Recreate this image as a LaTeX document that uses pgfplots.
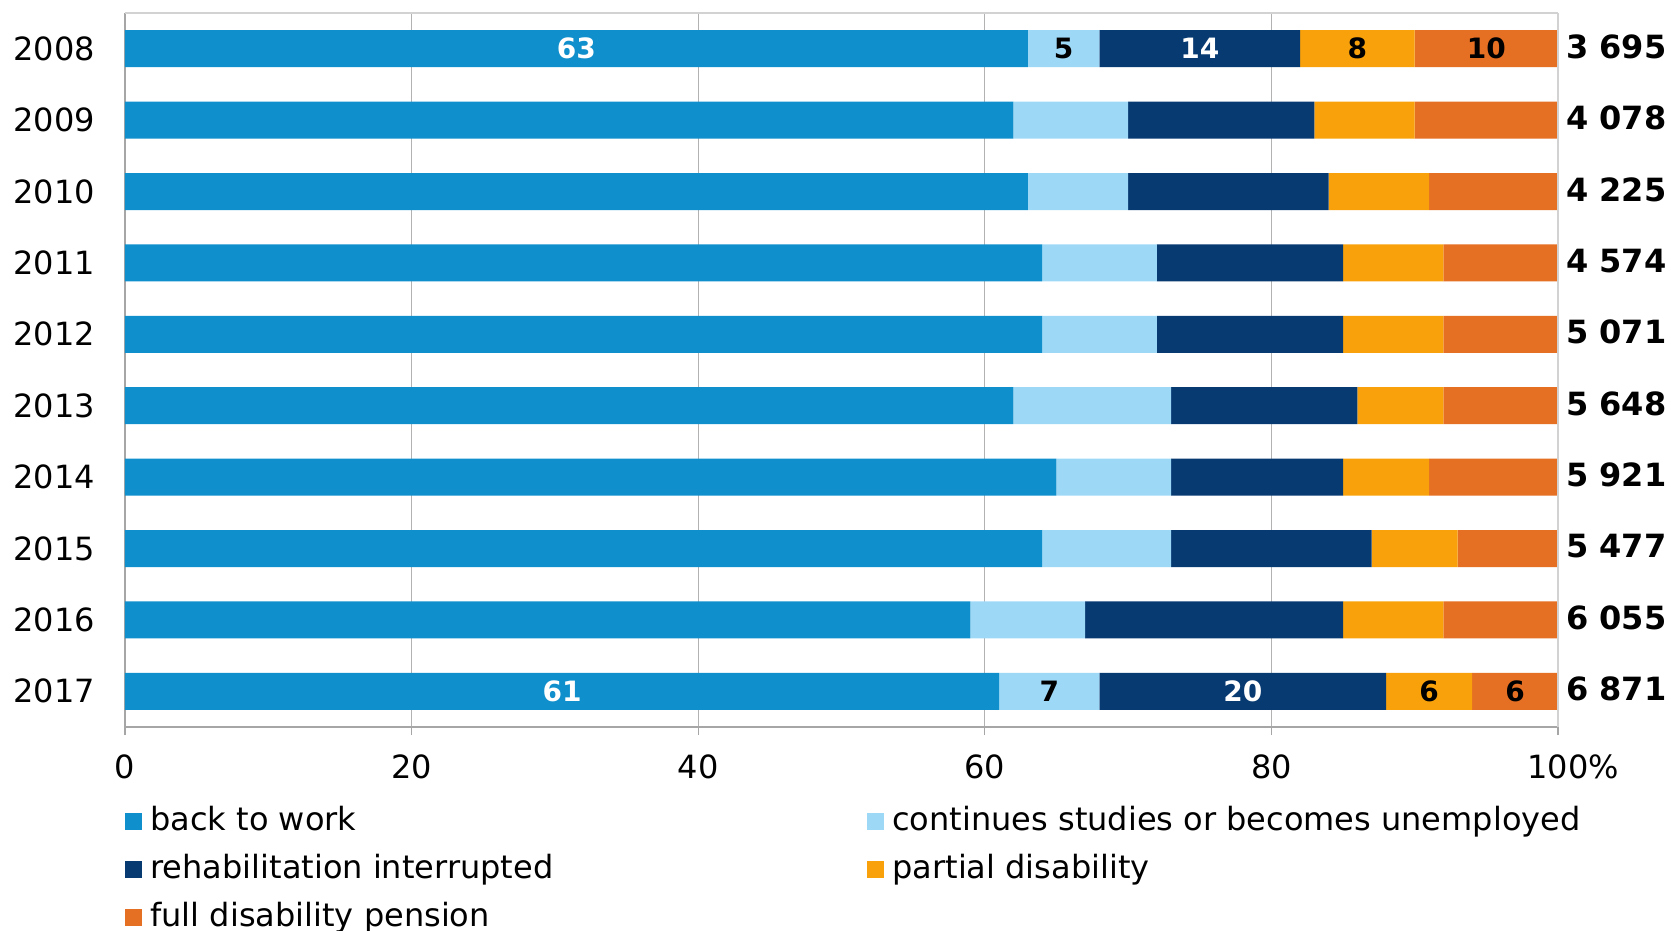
\documentclass[border=0pt]{standalone}
\usepackage{pgfplots}
\pgfplotsset{compat=1.18}
\usepackage{pgfplotstable}
\usepackage{fontspec}
\setmainfont{DejaVu Sans}

\definecolor{cwork}{HTML}{0F8FCC}
\definecolor{cstud}{HTML}{9DD9F7}
\definecolor{crehab}{HTML}{083A72}
\definecolor{cpart}{HTML}{F9A10B}
\definecolor{cfull}{HTML}{E56F22}

% shares in %, rows 0 = 2008 ... 9 = 2017; l* = printed labels
\pgfplotstableread{
y w s r p f lw ls lr lp lf
0 63 5 14 8 10 63 5 14 8 10
1 62 8 13 7 10 {} {} {} {} {}
2 63 7 14 7 9 {} {} {} {} {}
3 64 8 13 7 8 {} {} {} {} {}
4 64 8 13 7 8 {} {} {} {} {}
5 62 11 13 6 8 {} {} {} {} {}
6 65 8 12 6 9 {} {} {} {} {}
7 64 9 14 6 7 {} {} {} {} {}
8 59 8 18 7 8 {} {} {} {} {}
9 61 7 20 6 6 61 7 20 6 6
}\shares

% one stacked segment: column, fill, label colour, legend text
\newcommand{\seg}[4]{%
  \addplot[fill=#2, draw=none,
    point meta=explicit symbolic,
    nodes near coords,
    every node near coord/.append style={text=#3, anchor=center,
      font=\fontsize{14}{16}\selectfont\bfseries}]
    table[x=#1, y=y, meta=l#1] {\shares};
  \addlegendentry{#4}
}

\begin{document}
\begin{tikzpicture}
\path[use as bounding box] (-62.5pt,-102pt) rectangle (773pt,363.5pt);
\begin{axis}[
  scale only axis, width=716.5pt, height=357pt,
  xbar stacked, bar width=18.5pt,
  xmin=0, xmax=100, ymin=-0.5, ymax=9.5, y dir=reverse,
  axis x line*=bottom, axis y line*=left,
  x axis line style={draw=gray!70, line width=1.1pt},
  y axis line style={draw=gray!70, line width=0.6pt},
  xtick={0,20,...,100},
  xticklabels={0,20,40,60,80,100\rlap{\%}},
  ytick={0,...,9},
  yticklabels={2008,2009,2010,2011,2012,2013,2014,2015,2016,2017},
  xmajorgrids, grid style={gray!60, line width=0.6pt},
  tick align=outside, major tick length=4pt,
  xtick style={gray!70, line width=0.6pt},
  ytick style={draw=none},
  ticklabel style={font=\fontsize{16}{18}\selectfont},
  xticklabel shift=6.5pt,
  yticklabel style={xshift=-7.5pt},
  legend columns=2, legend cell align=left,
  legend image code/.code={\fill[#1] (0pt,-4.25pt) rectangle (8.5pt,4.25pt);},
  legend style={draw=none, fill=none, at={(0,0)}, anchor=north west,
    yshift=-39.5pt, inner sep=0pt, row sep=8.5pt,
    font=\fontsize{16}{18}\selectfont,
    nodes={inner xsep=0pt, inner ysep=0pt, text height=12pt, text depth=3.5pt},
    /tikz/every odd column/.append style={column sep=4pt}},
]
\seg{w}{cwork}{white}{\makebox[358.5pt][l]{back to work}}
\seg{s}{cstud}{black}{continues studies or becomes unemployed}
\seg{r}{crehab}{white}{\makebox[358.5pt][l]{rehabilitation interrupted}}
\seg{p}{cpart}{black}{partial disability}
\seg{f}{cfull}{black}{\makebox[358.5pt][l]{full disability pension}}
\end{axis}
\begin{axis}[
  scale only axis, width=716.5pt, height=357pt,
  xmin=0, xmax=100, ymin=-0.5, ymax=9.5, y dir=reverse,
  axis x line*=top, axis y line*=right,
  axis line style={draw=gray!35, line width=0.6pt},
  xtick=\empty,
  ytick={0,...,9},
  yticklabels={3 695,4 078,4 225,4 574,5 071,5 648,5 921,5 477,6 055,6 871},
  tick align=outside, major tick length=4pt,
  ytick style={draw=none},
  yticklabel style={font=\fontsize{16}{18}\selectfont\bfseries, xshift=-3.5pt, yshift=1pt},
]
\end{axis}
\end{tikzpicture}
\end{document}
